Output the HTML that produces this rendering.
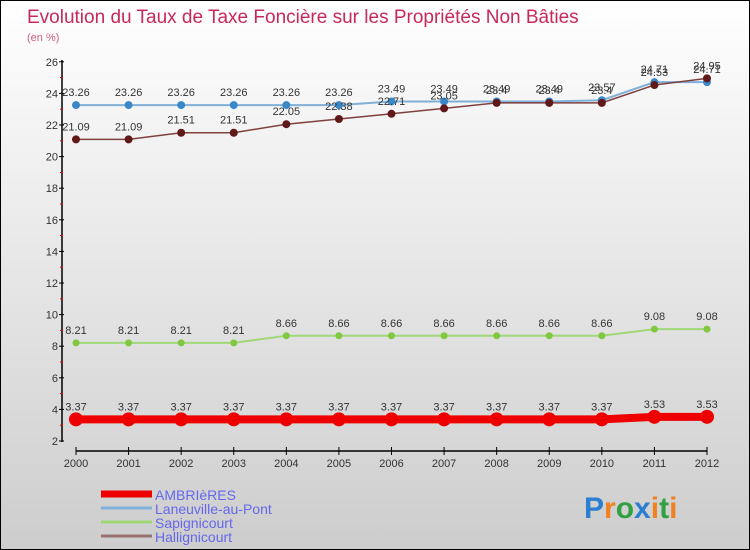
<!DOCTYPE html>
<html><head><meta charset="utf-8"><style>
body{margin:0}
#c{width:750px;height:550px;position:relative;overflow:hidden;box-sizing:border-box;border:1px solid #000;background:linear-gradient(#fff 0%,#f0f0f0 30%,#cdcdcd 100%);font-family:"Liberation Sans",sans-serif}
svg{position:absolute;left:0;top:0}
</style></head><body>
<div id="c">
<svg id="s" width="750" height="550">
<text x="26" y="22" font-size="19" fill="#c8285a">Evolution du Taux de Taxe Foncière sur les Propriétés Non Bâties</text>
<text x="26" y="40" font-size="11" fill="#d06080">(en %)</text>
<g id="axes"></g><g id="series"></g><g id="legend"></g>
<text x="583" y="517" font-size="30" font-weight="bold"><tspan fill="#2a7fd0">P</tspan><tspan fill="#f08020">r</tspan><tspan fill="#30a040">o</tspan><tspan fill="#2a7fd0">x</tspan><tspan fill="#f08020">i</tspan><tspan fill="#30a040">t</tspan><tspan fill="#f08020">i</tspan></text>
</svg>
</div>
<script>
const years=[2000,2001,2002,2003,2004,2005,2006,2007,2008,2009,2010,2011,2012];
const yTicks=[2,4,6,8,10,12,14,16,18,20,22,24,26];
const ambrieres=[3.37,3.37,3.37,3.37,3.37,3.37,3.37,3.37,3.37,3.37,3.37,3.53,3.53];
const laneuville=[23.26,23.26,23.26,23.26,23.26,23.26,23.49,23.49,23.49,23.49,23.57,24.71,24.71];
const sapignicourt=[8.21,8.21,8.21,8.21,8.66,8.66,8.66,8.66,8.66,8.66,8.66,9.08,9.08];
const hallignicourt=[21.09,21.09,21.51,21.51,22.05,22.38,22.71,23.05,23.4,23.4,23.4,24.53,24.95];
const NS="http://www.w3.org/2000/svg";
function xs(i){return 75+i*(706-75)/(years.length-1);}
function ys(v){return 440-(v-2)*15.8;}
function mk(tag,a,p){const e=document.createElementNS(NS,tag);for(const k in a)e.setAttribute(k,a[k]);p.appendChild(e);return e;}
const ax=document.getElementById('axes');
let l=mk('line',{x1:61,y1:59,x2:61,y2:441,stroke:'#000','stroke-width':1.5},ax);


l=mk('line',{x1:75,y1:450,x2:706,y2:450,stroke:'#000','stroke-width':1.5},ax);


yTicks.forEach((t,i)=>{
  mk('line',{x1:58,y1:ys(t),x2:63,y2:ys(t),stroke:'#000'},ax);
  if(i<yTicks.length-1)mk('line',{x1:59,y1:ys(t+1),x2:62,y2:ys(t+1),stroke:'#e00'},ax);
  const tx=mk('text',{x:57,y:ys(t)+4,'font-size':11,'text-anchor':'end',fill:'#333'},ax);
  tx.textContent=t;
  
  
});
years.forEach((y,i)=>{
  mk('line',{x1:xs(i),y1:446,x2:xs(i),y2:454,stroke:'#000'},ax);
  const tx=mk('text',{x:xs(i),y:466,'font-size':11,'text-anchor':'middle',fill:'#333'},ax);
  tx.textContent=y;
  
  
});
const sg=document.getElementById('series');
function series(vals,color,w,r,name,dot){
  const g=mk('g',{},sg);
  
  
  mk('polyline',{points:vals.map((v,i)=>xs(i)+','+ys(v)).join(' '),fill:'none',stroke:color,'stroke-width':w},g);
  vals.forEach((v,i)=>{
    const c=mk('circle',{cx:xs(i),cy:ys(v),r:r,fill:dot},g);
    
    
    const t=mk('text',{x:xs(i),y:ys(v)-9,'font-size':11,'text-anchor':'middle',fill:'#333'},g);
    t.textContent=v;
    
    
  });
}
series(sapignicourt,'#a0d878',2,3.5,'series-sapignicourt','#80c840');
series(laneuville,'#80b0d8',2,4,'series-laneuville','#3a88c8');
series(hallignicourt,'#804040',1.5,4,'series-hallignicourt','#601818');
series(ambrieres,'#e00',8,7,'series-ambrieres','#e00');
const lg=document.getElementById('legend');
[['AMBRIèRES','#e00',7],['Laneuville-au-Pont','#80b0d8',3],['Sapignicourt','#a0d878',3],['Hallignicourt','#987070',3]].forEach((d,i)=>{
  const y=493+i*14;
  const g=mk('g',{},lg);
  
  
  mk('line',{x1:100,y1:y,x2:151,y2:y,stroke:d[1],'stroke-width':d[2]},g);
  const t=mk('text',{x:154,y:y+6,'font-size':14,fill:'#6666ee'},g);
  t.textContent=d[0];
});
</script>
</body></html>
